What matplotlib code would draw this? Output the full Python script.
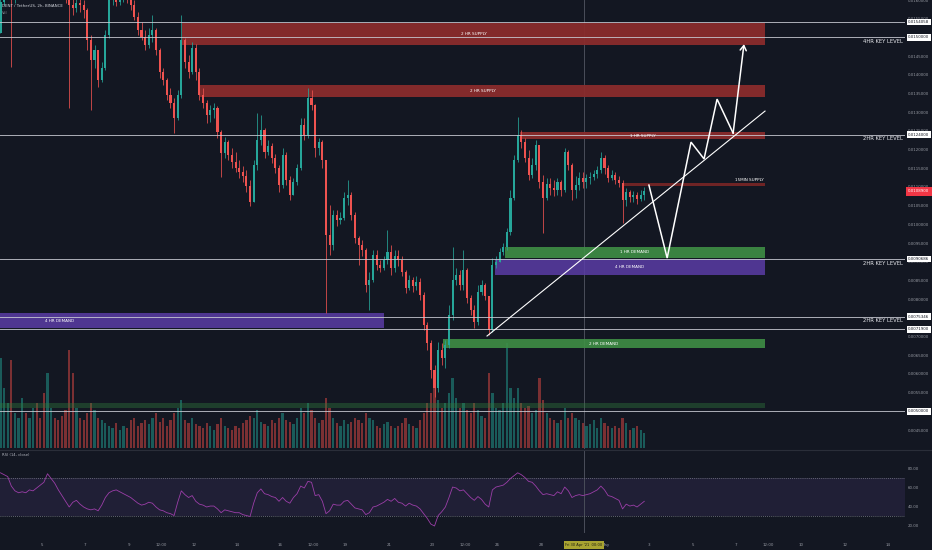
import numpy as np
import matplotlib
matplotlib.use("Agg")
import matplotlib.pyplot as plt
import matplotlib.transforms as mtrans

# ---------------- data (prices in units of 0.00001 USDT) ----------------
UNIT = 1e-5
t_start = 3.1            # April 3rd (day number, May = 31+)
candles_per_day = 6
open0 = 1512
close_p = [1595,1627,1640,1613,1632,1653,1667,1648,1659,1680,
           1667,1653,1640,1659,1675,1653,1640,1627,1613,1587,
           1579,1592,1587,1573,1493,1440,1466,1386,1418,1506,
           1600,1613,1595,1608,1621,1613,1587,1555,1520,1501,
           1480,1506,1520,1466,1407,1386,1346,1325,1284,1346,
           1493,1434,1407,1472,1407,1346,1325,1292,1306,1311,
           1247,1191,1220,1186,1167,1151,1140,1129,1103,1060,
           1159,1226,1252,1194,1210,1178,1151,1105,1186,1119,
           1079,1113,1151,1266,1239,1338,1319,1204,1220,1172,
           972,945,1025,1012,1017,1071,1079,1025,964,945,
           932,838,851,918,891,883,905,926,883,915,
           905,873,830,851,835,846,811,731,683,611,
           562,664,643,677,758,851,865,838,878,803,
           771,739,819,838,808,718,891,899,926,940,
           980,1071,1172,1239,1220,1178,1132,1159,1212,1113,
           1071,1108,1097,1092,1113,1092,1194,1159,1092,1105,
           1124,1113,1124,1127,1135,1145,1178,1151,1124,1132,
           1119,1111,1065,1087,1073,1079,1068,1079,1089]
high_p = [1627,1667,1680,1653,1667,1694,1707,1694,1702,1720,
          1707,1694,1680,1694,1707,1694,1680,1667,1653,1640,
          1613,1621,1613,1600,1579,1506,1480,1466,1434,1520,
          1627,1648,1627,1640,1653,1648,1627,1600,1568,1541,
          1520,1525,1560,1525,1472,1418,1391,1365,1338,1359,
          1560,1498,1453,1488,1482,1418,1365,1333,1319,1325,
          1317,1252,1234,1226,1204,1194,1172,1156,1145,1119,
          1172,1298,1292,1258,1226,1218,1188,1159,1204,1194,
          1129,1124,1161,1284,1284,1365,1359,1322,1231,1226,
          1172,1052,1038,1038,1033,1087,1119,1087,1033,969,
          958,937,873,932,932,905,915,985,945,932,
          932,915,878,865,859,862,857,819,739,691,
          624,686,683,691,784,940,883,878,932,883,
          811,784,838,851,843,808,910,915,937,950,
          990,1092,1186,1287,1252,1231,1199,1178,1226,1212,
          1132,1124,1124,1119,1124,1119,1204,1199,1164,1129,
          1140,1140,1135,1140,1145,1156,1194,1186,1159,1145,
          1140,1129,1119,1097,1092,1089,1087,1092,1100]
low_p = [1512,1587,1613,1421,1592,1621,1640,1627,1632,1653,
         1640,1627,1613,1627,1648,1632,1613,1605,1592,1311,
         1560,1568,1568,1552,1466,1306,1418,1367,1381,1413,
         1498,1587,1584,1587,1595,1592,1573,1547,1506,1493,
         1466,1472,1488,1453,1391,1373,1333,1311,1244,1279,
         1338,1418,1391,1402,1386,1333,1311,1271,1274,1284,
         1231,1127,1178,1172,1151,1140,1124,1113,1087,1049,
         1065,1145,1212,1178,1186,1164,1137,1087,1097,1105,
         1065,1087,1105,1145,1226,1231,1306,1180,1186,1151,
         763,918,932,996,1001,1012,1052,1012,950,891,
         915,819,771,846,878,873,878,894,865,873,
         889,862,817,825,819,825,798,718,664,589,
         538,552,624,616,669,744,838,825,825,790,
         758,723,731,811,798,704,712,883,899,918,
         932,972,1065,1167,1204,1167,1119,1124,1145,1097,
         977,1065,1079,1076,1079,1076,1087,1145,1065,1071,
         1092,1097,1097,1108,1119,1124,1137,1135,1113,1119,
         1108,1100,1004,1049,1060,1060,1055,1063,1065]
volume = [90,60,45,88,35,30,50,35,30,40,
          45,30,55,75,40,30,28,32,38,98,
          75,40,30,28,35,45,38,30,28,25,
          22,20,25,18,22,20,28,30,22,25,
          28,24,30,35,26,30,22,28,35,40,
          48,28,25,30,24,22,20,25,22,18,
          24,30,22,20,18,22,20,25,28,32,
          30,38,26,24,22,28,25,30,35,28,
          26,24,30,40,35,45,38,30,25,28,
          50,40,30,25,22,28,24,26,30,28,
          25,35,30,28,22,20,24,26,22,20,
          22,25,30,24,22,20,28,35,45,55,
          60,48,40,45,55,70,50,40,45,38,
          35,45,38,32,30,75,55,40,38,45,
          105,60,50,60,45,40,42,35,38,70,
          48,35,30,28,25,28,40,30,35,30,
          28,25,22,24,28,20,30,25,22,20,
          22,20,30,25,18,20,22,18,15]
rsi = [76,74,72,62,57,55,56,55,58,57,
       60,63,66,75,70,65,58,52,46,40,
       45,47,43,40,38,37,38,36,42,50,
       55,57,58,56,54,52,50,47,44,42,
       43,45,44,40,37,36,34,33,31,45,
       57,53,50,52,46,43,42,40,41,41,
       38,34,37,36,35,34,34,32,31,30,
       44,55,59,54,53,51,50,46,50,46,
       44,50,54,62,60,67,66,52,53,46,
       33,36,43,42,42,46,47,43,39,38,
       37,32,34,40,41,43,45,48,46,49,
       45,44,41,44,42,41,38,33,28,22,
       20,31,35,40,50,61,60,57,58,54,
       50,47,51,48,43,40,58,61,62,63,
       66,70,73,76,74,71,67,66,62,57,
       53,54,53,52,56,54,61,57,50,52,
       53,52,53,54,56,58,62,58,52,51,
       49,47,38,43,41,42,40,43,46]

# zones drawn on the chart
zone_labels = ["2 HR SUPPLY", "2 HR SUPPLY", "1 HR SUPPLY", "15MIN SUPPLY",
               "1 HR DEMAND", "4 HR DEMAND", "2 HR DEMAND", "4 HR DEMAND", ""]
zone_kind = ["supply", "supply", "supply", "supply15",
             "demand", "demand4", "demand", "demand4", "band"]
zone_start = [11.47, 12.29, 27.04, 31.74, 26.35, 25.89, 23.49, 3.0, 3.0]
zone_end = [38.33, 38.33, 38.33, 38.33, 38.33, 38.33, 38.33, 20.78, 38.33]
zone_lo = [1480, 1341, 1228, 1103, 910, 865, 669, 723, 509]
zone_hi = [1538, 1373, 1247, 1110, 940, 907, 693, 763, 522]

# horizontal key levels
key_levels = [1540.58, 1500, 1240, 906.86, 753.46, 719.0, 500]
key_names = ["", "4HR KEY LEVEL", "2HR KEY LEVEL", "2HR KEY LEVEL", "2HR KEY LEVEL", "", ""]

# trend line and projected path
trend_t = [25.52, 38.33]
trend_p = [701.5, 1303]
proj_t = [32.98, 33.82, 34.92, 35.52, 36.12, 36.86, 37.36]
proj_p = [1105, 910, 1220, 1175, 1335, 1244, 1482]

xtick_pos = [5, 7, 9, 10.5, 12, 14, 16, 17.5, 19, 21, 23, 24.5, 26, 28, 31, 33, 35, 37, 38.5, 40, 42, 44]
xtick_lab = ["5", "7", "9", "12:00", "12", "14", "16", "12:00", "19", "21", "23", "12:00",
             "26", "28", "May", "3", "5", "7", "12:00", "10", "12", "14"]
cursor_t = 29.99

# ---------------- style ----------------
BG = "#131722"
UP = "#26a69a"
DOWN = "#ef5350"
TXT = "#9598a1"
plt.rcParams["font.family"] = ["DejaVu Sans"]

W, H = 932, 550
fig = plt.figure(figsize=(W / 100, H / 100), dpi=100, facecolor=BG)


def px_axes(x0, y0, x1, y1, z):
    a = fig.add_axes([x0 / W, 1 - y1 / H, (x1 - x0) / W, (y1 - y0) / H], zorder=z)
    a.set_facecolor("none")
    for s in a.spines.values():
        s.set_visible(False)
    return a


XL = (3.078, 44.78)
axv = px_axes(0, 340, 905, 448, 0)
ax = px_axes(0, 0, 905, 449, 1)
axr = px_axes(0, 450, 905, 533, 1)

# ---------------- candles ----------------
n = len(close_p)
t = t_start + np.arange(n) / candles_per_day
c = np.array(close_p, float) * UNIT
o = np.concatenate([[open0], close_p[:-1]]).astype(float) * UNIT
h = np.array(high_p, float) * UNIT
l = np.array(low_p, float) * UNIT
up = c >= o
cols = np.where(up, UP, DOWN)
hi = np.maximum(h, np.maximum(o, c))
lo = np.minimum(l, np.minimum(o, c))
w = 1.0 / candles_per_day
ax.vlines(t, lo, hi, colors=cols, lw=0.55, zorder=4)
body = np.maximum(np.abs(c - o), 0.8 * UNIT)
ax.bar(t, body, bottom=np.minimum(o, c), width=0.58 * w, color=cols, linewidth=0, zorder=5)

# volume
vcols = np.where(up, "#1f8a80", "#c2423f")
axv.bar(t, volume, width=0.62 * w, color=vcols, alpha=0.6, linewidth=0)
axv.set_xlim(*XL)
axv.set_ylim(0, 108)
axv.set_xticks([])
axv.set_yticks([])

# ---------------- zones ----------------
zcol = {"supply": ("#8a2c2c", 0.95), "supply15": ("#7a2626", 0.9),
        "demand": ("#3f8f45", 0.9), "demand4": ("#5a3ca6", 0.85),
        "band": ("#2f7a3c", 0.4)}
for lab, kind, s, e, zl, zh in zip(zone_labels, zone_kind, zone_start, zone_end, zone_lo, zone_hi):
    fc, al = zcol[kind]
    ax.fill_between([s, e], zl * UNIT, zh * UNIT, color=fc, alpha=al, linewidth=0, zorder=3)
    if not lab:
        continue
    if kind == "supply15":
        ax.text(e - 0.05, zh * UNIT + 4 * UNIT, lab, color="white", fontsize=3.0,
                ha="right", va="bottom", zorder=8)
    elif s < XL[0] + 0.1:
        ax.text(s + 2.8, (zl + zh) / 2 * UNIT, lab, color="white", fontsize=3.0,
                ha="center", va="center", zorder=8)
    else:
        ax.text((s + e) / 2, (zl + zh) / 2 * UNIT, lab, color="white", fontsize=3.0,
                ha="center", va="center", zorder=8)

# ---------------- key levels ----------------
blend = mtrans.blended_transform_factory(ax.transAxes, ax.transData)
for lv, nm in zip(key_levels, key_names):
    ax.axhline(lv * UNIT, color="#c8cad2", lw=0.7, alpha=0.85, zorder=6)
    if nm:
        ax.annotate(nm, xy=(XL[1] - 0.09, lv * UNIT), xytext=(0, -1.2), textcoords="offset points",
                    ha="right", va="top", color="#e6e7ec", fontsize=3.8, zorder=9)
    ax.annotate(f"{lv * UNIT:.7f}", xy=(1, lv * UNIT), xycoords=blend, xytext=(2.2, 0),
                textcoords="offset points", ha="left", va="center", fontsize=2.9, color=BG,
                bbox=dict(boxstyle="square,pad=0.3", fc="white", ec="none"),
                annotation_clip=False, zorder=20)

ax.annotate(f"{c[-1]:.7f}", xy=(1, c[-1]), xycoords=blend, xytext=(2.2, 0),
            textcoords="offset points", ha="left", va="center", fontsize=2.9, color="white",
            bbox=dict(boxstyle="square,pad=0.6", fc="#f23645", ec="none"),
            annotation_clip=False, zorder=20)

# ---------------- trend line & projection ----------------
ax.plot(np.array(trend_t), np.array(trend_p) * UNIT, color="white", lw=0.8, zorder=10)
pp = np.array(proj_p) * UNIT
ax.plot(proj_t[:-1], pp[:-1], color="white", lw=1.1, zorder=10, solid_joinstyle="miter")
ax.annotate("", xy=(proj_t[-1], pp[-1]), xytext=(proj_t[-2], pp[-2]),
            arrowprops=dict(arrowstyle="->,head_length=0.35,head_width=0.22", color="white",
                            lw=1.1, shrinkA=0, shrinkB=0), zorder=10)

# cursor line
for a in (ax, axr):
    a.axvline(cursor_t, color="#4a4e5a", lw=0.7, zorder=2)

# ---------------- main axes formatting ----------------
ax.set_xlim(*XL)
ax.set_ylim(399.4 * UNIT, 1600 * UNIT)
yt = np.arange(450, 1601, 50) * UNIT
ax.set_yticks(yt)
ax.set_yticklabels([f"{v:.7f}" for v in yt])
ax.yaxis.tick_right()
ax.tick_params(axis="y", length=0, pad=2.2, labelsize=2.9, labelcolor=TXT)
ax.set_xticks([])

# ---------------- RSI ----------------
axr.set_xlim(*XL)
axr.set_ylim(12.63, 100)
axr.axhspan(30, 70, color="#7e57c2", alpha=0.13, linewidth=0)
for lv in (70, 30):
    axr.axhline(lv, color="#787b86", lw=0.6, ls=(0, (1, 1.5)))
axr.plot(t, rsi, color="#9b3ea8", lw=0.6)
axr.yaxis.tick_right()
axr.set_yticks([20, 40, 60, 80])
axr.set_yticklabels(["20.00", "40.00", "60.00", "80.00"])
axr.tick_params(axis="y", length=0, pad=2.2, labelsize=2.9, labelcolor=TXT)
axr.set_xticks(xtick_pos)
axr.set_xticklabels(xtick_lab)
axr.tick_params(axis="x", length=0, pad=7, labelsize=2.9, labelcolor=TXT)

# separators and captions
fig.add_artist(plt.Line2D([0, 1], [1 - 449.5 / H, 1 - 449.5 / H], color="#2a2e39", lw=0.8))
fig.text(2 / W, 1 - 6 / H, "DENT / TetherUS, 2h, BINANCE", color="#d1d4dc", fontsize=2.9, va="center")
fig.text(2 / W, 1 - 12.5 / H, "Vol", color=TXT, fontsize=2.6, va="center")
fig.text(2 / W, 1 - 455 / H, "RSI (14, close)", color="#b2b5be", fontsize=2.7, va="center")
fig.text(584 / W, 1 - 545 / H, "Fri 30 Apr '21  00:00", color="#1b1b12", fontsize=2.6,
         ha="center", va="center",
         bbox=dict(boxstyle="square,pad=0.5", fc="#a9a431", ec="none"), zorder=30)

fig.savefig("out.png", dpi=100, facecolor=BG)
